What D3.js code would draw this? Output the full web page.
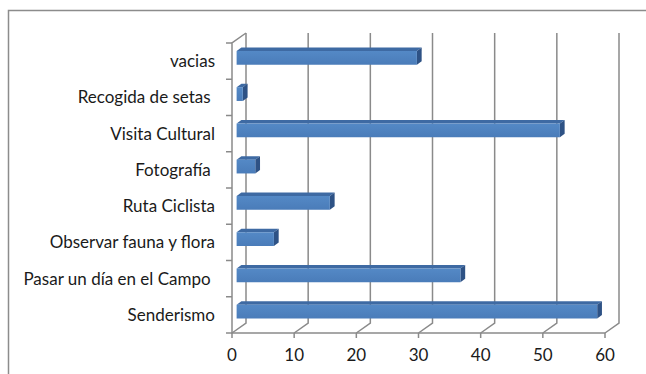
<!DOCTYPE html>
<html><head><meta charset="utf-8">
<script src="https://cdn.jsdelivr.net/npm/d3@7"></script>
<style>
html,body{margin:0;padding:0;background:#fff;}
svg{display:block;}
text{font-family:Lato,"Open Sans",sans-serif;fill:#1a1a1a;white-space:pre;}
</style></head>
<body>
<script>
const categories = ["vacias","Recogida de setas ","Visita Cultural","Fotografía ","Ruta Ciclista","Observar fauna y flora","Pasar un día en el Campo ","Senderismo"];
const values = [29,1,52,3,15,6,36,58];
const ticks = [0,10,20,30,40,50,60];

const W=646,H=374;
const svg=d3.select("body").append("svg").attr("width",W).attr("height",H);

// chart border
svg.append("rect").attr("x",8.5).attr("y",10.5).attr("width",660).attr("height",400)
  .attr("fill","none").attr("stroke","#8c8c8c").attr("stroke-width",1.5);

const x=d3.scaleLinear().domain([0,60]).range([232,605]);
const y=d3.scaleBand().domain(categories).range([43,333]).paddingInner(0).paddingOuter(0);
const DX=14, DY=-10; // depth offset (back wall)
const P=(v,yy,z)=>[x(v)+z*DX, yy+z*DY];

const grid=svg.append("g").attr("stroke","#8a8a8a").attr("stroke-width",1.5).attr("fill","none");
const yTop=y.range()[0], yBot=y.range()[1];
// back gridlines + floor diagonals
ticks.forEach(t=>{
  const a=P(t,yTop,1), b=P(t,yBot,1), c=P(t,yBot,0);
  grid.append("path").attr("d",`M${a[0]},${a[1]}L${b[0]},${b[1]}L${c[0]},${c[1]}`);
  // tick mark below front axis
  grid.append("line").attr("x1",c[0]).attr("x2",c[0]).attr("y1",c[1]).attr("y2",c[1]+5);
});
// front left edge of wall + top diagonal
{
  const a=P(0,yTop,1), b=P(0,yTop,0), c=P(0,yBot,0), d=P(60,yBot,0);
  grid.append("path").attr("d",`M${a[0]},${a[1]}L${b[0]},${b[1]}L${c[0]},${c[1]}L${d[0]},${d[1]}`);
}
// category separator ticks
const bounds=categories.map(c=>y(c)).concat([yBot]);
bounds.forEach(b=>{
  grid.append("line").attr("x1",x(0)-6).attr("x2",x(0)).attr("y1",b).attr("y2",b);
});

// gradient for front face
const defs=svg.append("defs");
const lg=defs.append("linearGradient").attr("id","gf").attr("x1",0).attr("y1",0).attr("x2",0).attr("y2",1);
lg.append("stop").attr("offset","0%").attr("stop-color","#5489c6");
lg.append("stop").attr("offset","100%").attr("stop-color","#4a7cb9");

// bars
const bh=y.bandwidth()*0.38;
const z0=0.33,z1=0.67;
const bars=svg.append("g");
categories.forEach((c,i)=>{
  const v=values[i];
  const yc=y(c)+y.bandwidth()/2;
  const t=yc-bh/2, b=yc+bh/2;
  const f1=P(0,t,z0), f2=P(v,t,z0), f3=P(v,b,z0), f4=P(0,b,z0);
  const k1=P(0,t,z1), k2=P(v,t,z1), k3=P(v,b,z1);
  const g=bars.append("g");
  g.append("path").attr("d",`M${f1}L${k1}L${k2}L${f2}Z`).attr("fill","#3e6aa3");
  g.append("path").attr("d",`M${f2}L${k2}L${k3}L${f3}Z`).attr("fill","#2e5285");
  g.append("path").attr("d",`M${f1}L${f2}L${f3}L${f4}Z`).attr("fill","url(#gf)");
});

// category labels
svg.append("g").selectAll("text").data(categories).join("text")
  .attr("x",215).attr("y",d=>y(d)+y.bandwidth()/2).attr("dy","0.36em")
  .attr("text-anchor","end").attr("font-size",17).text(d=>d);

// x tick labels
svg.append("g").selectAll("text").data(ticks).join("text")
  .attr("x",d=>x(d)).attr("y",361).attr("text-anchor","middle").attr("font-size",17).text(d=>d);
</script>
</body></html>
